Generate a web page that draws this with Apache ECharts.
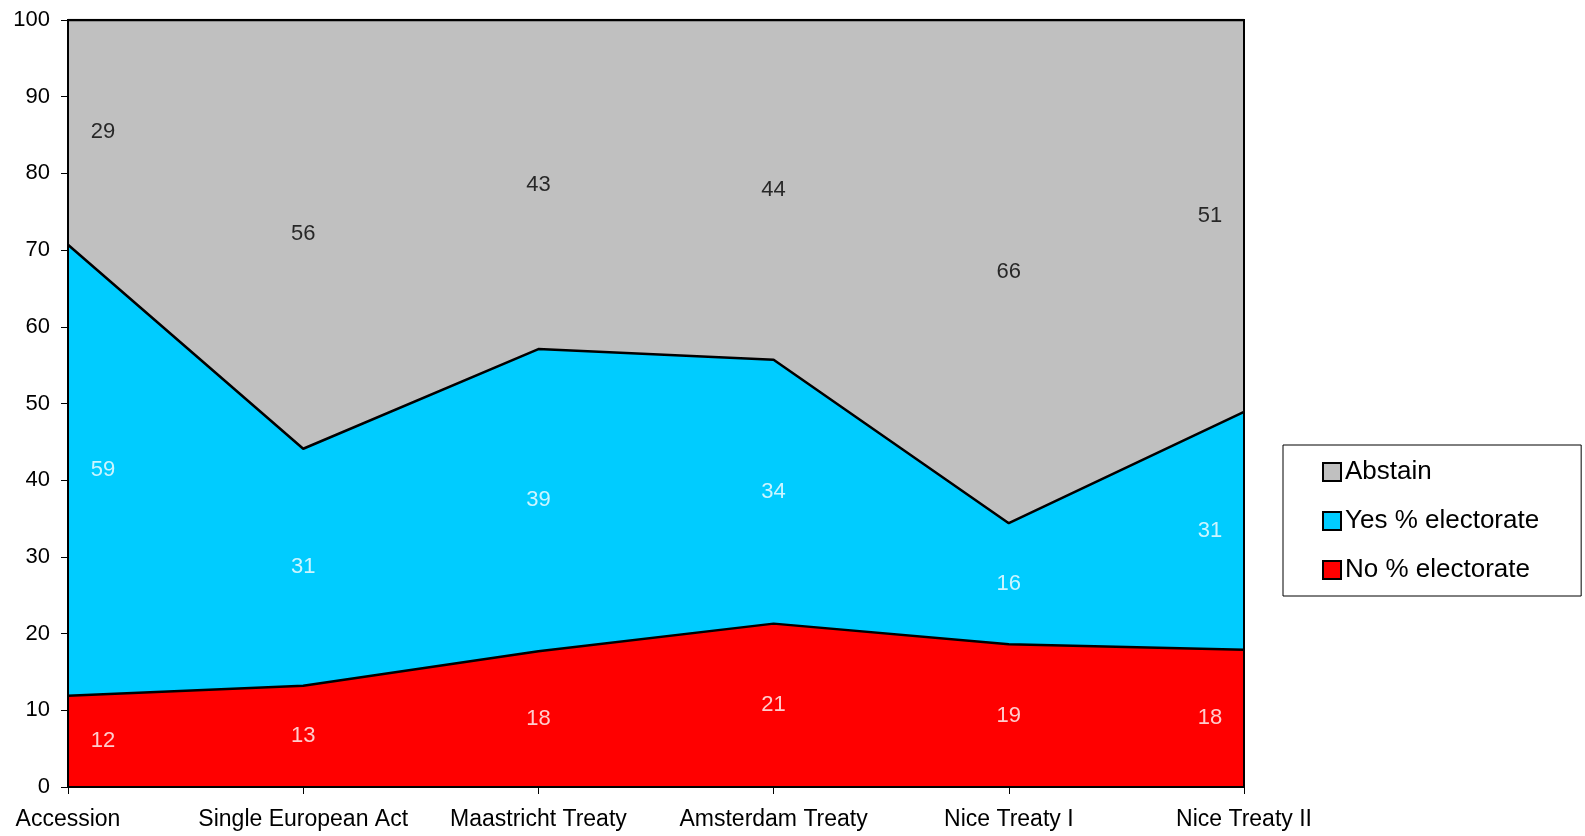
<!DOCTYPE html>
<html>
<head>
<meta charset="utf-8">
<script src="https://cdn.jsdelivr.net/npm/echarts@6/dist/echarts.min.js"></script>
<style>
  html, body { margin: 0; padding: 0; background: #fff; }
  #chart { width: 1585px; height: 836px; }
</style>
</head>
<body>
<div id="chart"></div>
<script>
// Referendum results as share of the electorate (%)
const categories = ['Accession', 'Single European Act', 'Maastricht Treaty', 'Amsterdam Treaty', 'Nice Treaty I', 'Nice Treaty II'];
const noShare      = [11.9, 13.2, 17.7, 21.3, 18.6, 17.9];
const yesShare     = [58.8, 30.9, 39.4, 34.4, 15.8, 31.0];
const abstainShare = [29.3, 55.9, 42.9, 44.3, 65.6, 51.1];
const yTicks = { min: 0, max: 100, interval: 10 };

const FONT = '"Liberation Sans", Arial, sans-serif';

// Position each value label in the middle of its band
function midpoints(values, bases) {
  return values.map((v, i) => bases[i] + v / 2);
}
const zeros = categories.map(() => 0);
const yesBase = noShare.slice();
const abstainBase = noShare.map((v, i) => v + yesShare[i]);

function labelSeries(values, bases, color, name) {
  const last = values.length - 1;
  return {
    name: name + ' labels',
    type: 'scatter',
    symbolSize: 0,
    silent: true,
    z: 10,
    data: midpoints(values, bases).map((m, i) => ({
      value: [i, m],
      label: {
        offset: i === 0 ? [35, 0] : (i === last ? [-34, 0] : [0, 0])
      }
    })),
    label: {
      show: true,
      position: 'inside',
      color: color,
      textBorderWidth: 0,
      fontFamily: FONT,
      fontSize: 22,
      formatter: p => String(Math.round(values[p.dataIndex]))
    }
  };
}

function areaSeries(name, values, color) {
  return {
    name: name,
    type: 'line',
    stack: 'total',
    data: values,
    symbol: 'none',
    lineStyle: { color: '#000', width: 2.5 },
    areaStyle: { color: color, opacity: 1 },
    itemStyle: { color: color, borderColor: '#000', borderWidth: 2 },
    z: 2
  };
}

const chart = echarts.init(document.getElementById('chart'), null, { renderer: 'canvas' });
chart.setOption({
  animation: false,
  backgroundColor: '#fff',
  textStyle: { fontFamily: FONT },
  grid: {
    left: 68, right: 341, top: 20, bottom: 49,
    show: true, borderColor: '#000', borderWidth: 2, backgroundColor: 'transparent',
    z: 5
  },
  legend: {
    data: ['Abstain', 'Yes % electorate', 'No % electorate'],
    orient: 'vertical',
    left: 1283,
    top: 445,
    padding: [14, 42, 13, 39],
    itemGap: 23,
    itemWidth: 18,
    itemHeight: 18,
    icon: 'rect',
    backgroundColor: '#fff',
    borderColor: '#000',
    borderWidth: 1,
    borderRadius: 0,
    textStyle: { fontFamily: FONT, fontSize: 26, color: '#000', padding: [0, 0, 0, -1] }
  },
  xAxis: {
    type: 'category',
    data: categories,
    boundaryGap: false,
    axisLine: { show: true, lineStyle: { color: '#000', width: 2 } },
    axisTick: { show: true, alignWithLabel: true, length: 7, lineStyle: { color: '#000', width: 1 } },
    axisLabel: { color: '#000', fontFamily: FONT, fontSize: 23, margin: 21, interval: 0 },
    splitLine: { show: false },
    z: 6
  },
  yAxis: {
    type: 'value',
    min: yTicks.min,
    max: yTicks.max,
    interval: yTicks.interval,
    axisLine: { show: true, lineStyle: { color: '#000', width: 2 } },
    axisTick: { show: true, length: 7, lineStyle: { color: '#000', width: 1 } },
    axisLabel: { color: '#000', fontFamily: FONT, fontSize: 22, margin: 18 },
    splitLine: { show: false },
    z: 6
  },
  series: [
    areaSeries('No % electorate', noShare, '#ff0000'),
    areaSeries('Yes % electorate', yesShare, '#00ccff'),
    areaSeries('Abstain', abstainShare, '#c0c0c0'),
    labelSeries(noShare, zeros, '#fff', 'No'),
    labelSeries(yesShare, yesBase, '#fff', 'Yes'),
    labelSeries(abstainShare, abstainBase, '#000', 'Abstain')
  ]
});
</script>
</body>
</html>
